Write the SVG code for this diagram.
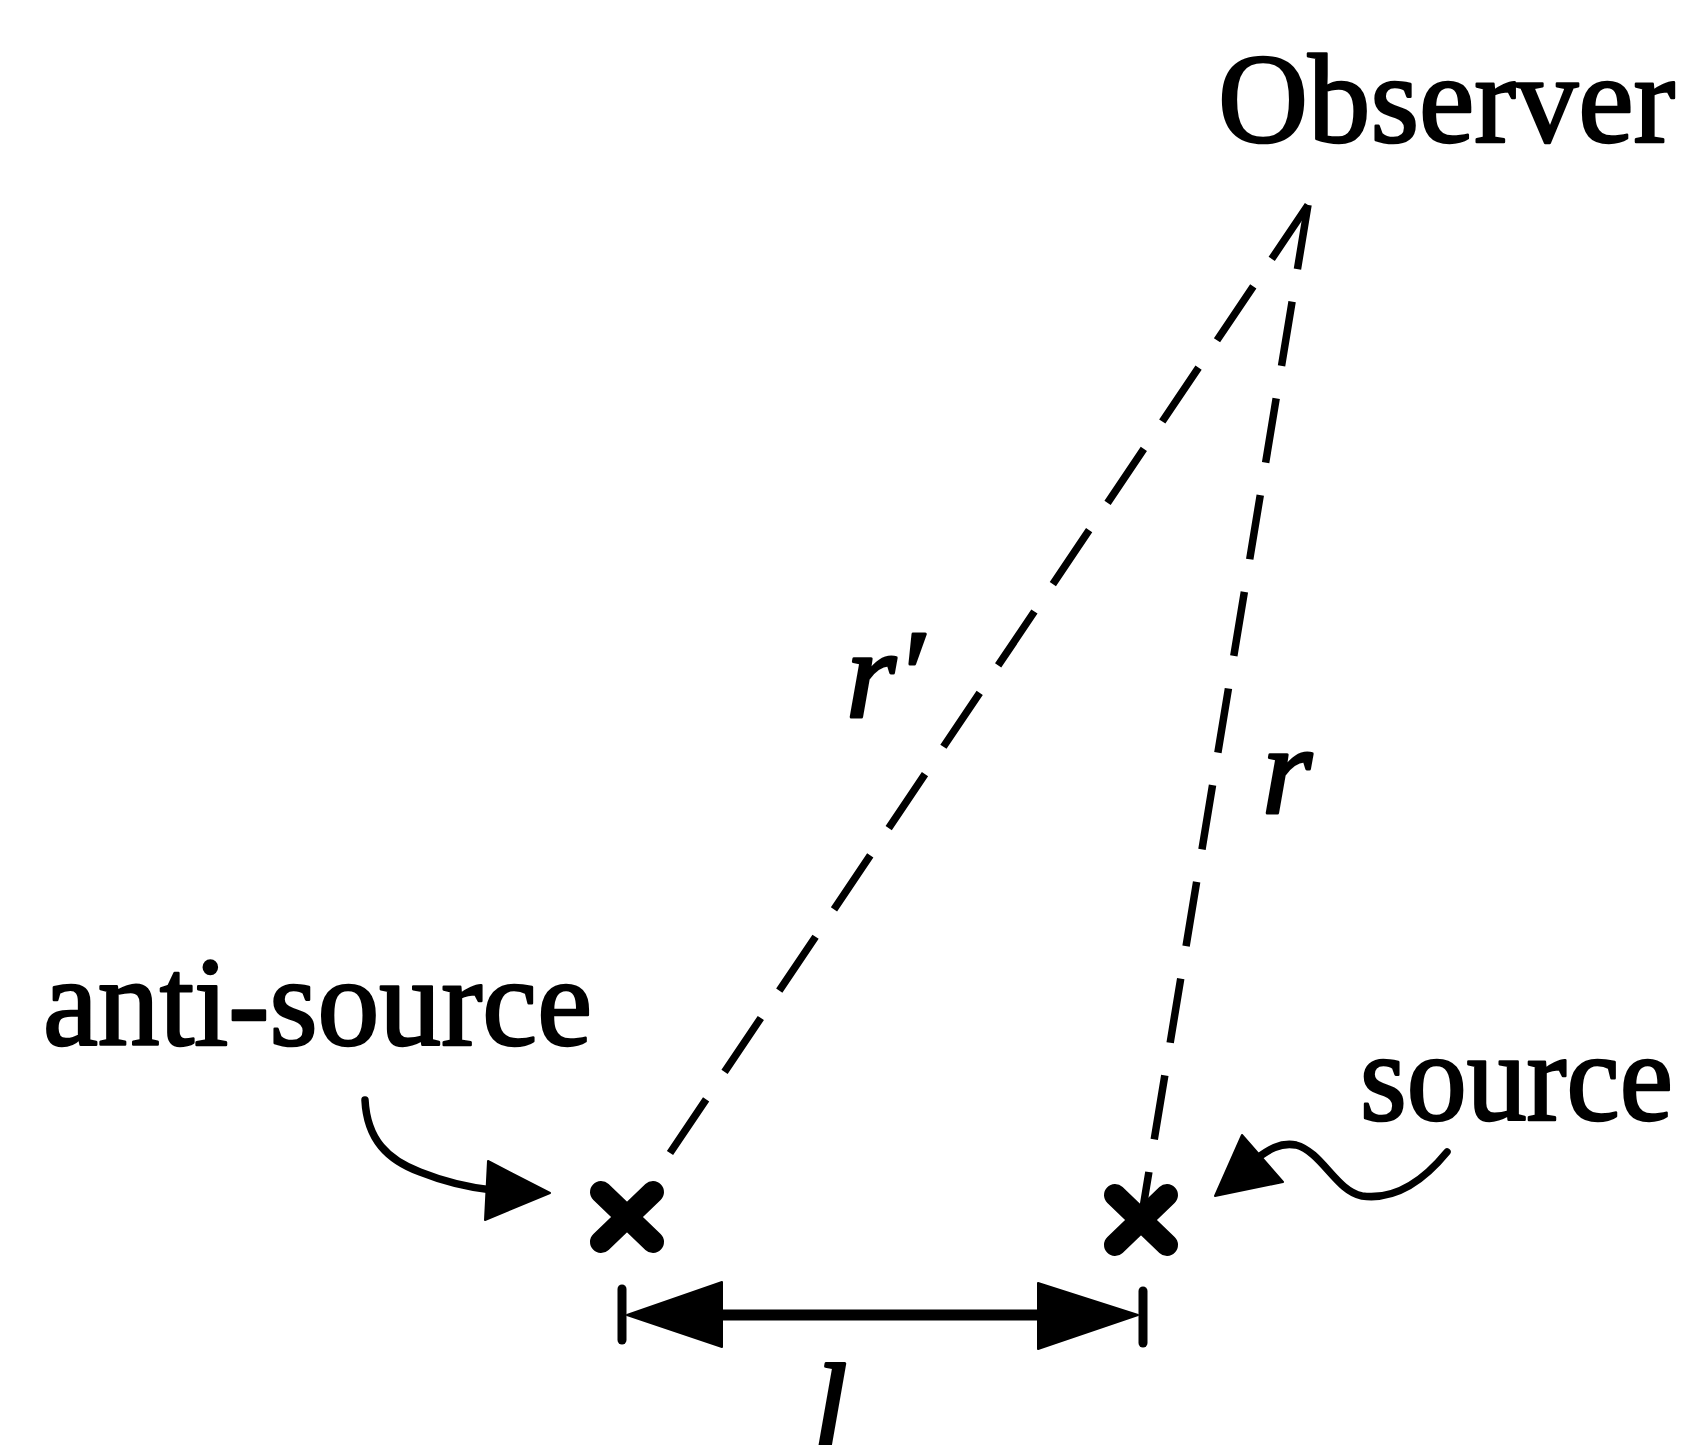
<svg xmlns="http://www.w3.org/2000/svg" width="1692" height="1445" viewBox="0 0 1692 1445">
<style>
.lbl{font-family:"Liberation Serif","Times New Roman",serif;font-size:128px;fill:#000;stroke:#000;stroke-width:2.6px;stroke-linejoin:round}
.var{font-family:"Liberation Serif","Times New Roman",serif;font-style:italic;font-size:128px;fill:#000;stroke:#000;stroke-width:3px;stroke-linejoin:round}
.dash{fill:none;stroke:#000;stroke-width:7.5;stroke-dasharray:65 33}
.curve{fill:none;stroke:#000;stroke-width:7.5;stroke-linecap:round}
.cross{stroke:#000;stroke-width:22;stroke-linecap:round}
.head{fill:#000;stroke:#000;stroke-width:2;stroke-linejoin:round}
</style>
<rect width="1692" height="1445" fill="#fff"/>
<g id="connectors">
  <line class="dash" x1="1308" y1="205" x2="670" y2="1153"/>
  <line class="dash" x1="1308" y1="205" x2="1141" y2="1220"/>
  <path class="curve" d="M365,1100 C367,1140 388,1160 420,1172 C445,1182 465,1187 492,1190"/>
  <polygon class="head" points="550,1193 488,1161 485,1220"/>
  <path class="curve" d="M1447,1152 C1420,1185 1392,1200 1362,1196 C1336,1191 1322,1152 1296,1145 C1280,1142 1268,1150 1256,1159"/>
  <polygon class="head" points="1215,1196 1242,1135 1283,1182"/>
  <g id="dimension">
    <line x1="622" y1="1289" x2="622" y2="1340" stroke="#000" stroke-width="9" stroke-linecap="round"/>
    <line x1="1143" y1="1291" x2="1143" y2="1343" stroke="#000" stroke-width="9" stroke-linecap="round"/>
    <line x1="700" y1="1315" x2="1060" y2="1315" stroke="#000" stroke-width="11"/>
    <polygon class="head" points="627,1315 722,1282 722,1347"/>
    <polygon class="head" points="1138,1315 1038,1283 1038,1349"/>
  </g>
</g>
<g id="observer">
  <text class="lbl" x="1218" y="142" textLength="457" lengthAdjust="spacingAndGlyphs">Observer</text>
</g>
<g id="anti-source">
  <line class="cross" x1="601" y1="1192" x2="653" y2="1242"/>
  <line class="cross" x1="653" y1="1192" x2="601" y2="1242"/>
  <text class="lbl" x="43" y="1045" textLength="549" lengthAdjust="spacingAndGlyphs">anti-source</text>
</g>
<g id="source">
  <line class="cross" x1="1115" y1="1195" x2="1167" y2="1245"/>
  <line class="cross" x1="1167" y1="1195" x2="1115" y2="1245"/>
  <text class="lbl" x="1360" y="1120" textLength="313" lengthAdjust="spacingAndGlyphs">source</text>
</g>
<g id="labels">
  <text class="var" x="846" y="717">r′</text>
  <text class="var" x="1262" y="813">r</text>
  <text class="var" x="812" y="1452">l</text>
</g>
</svg>
